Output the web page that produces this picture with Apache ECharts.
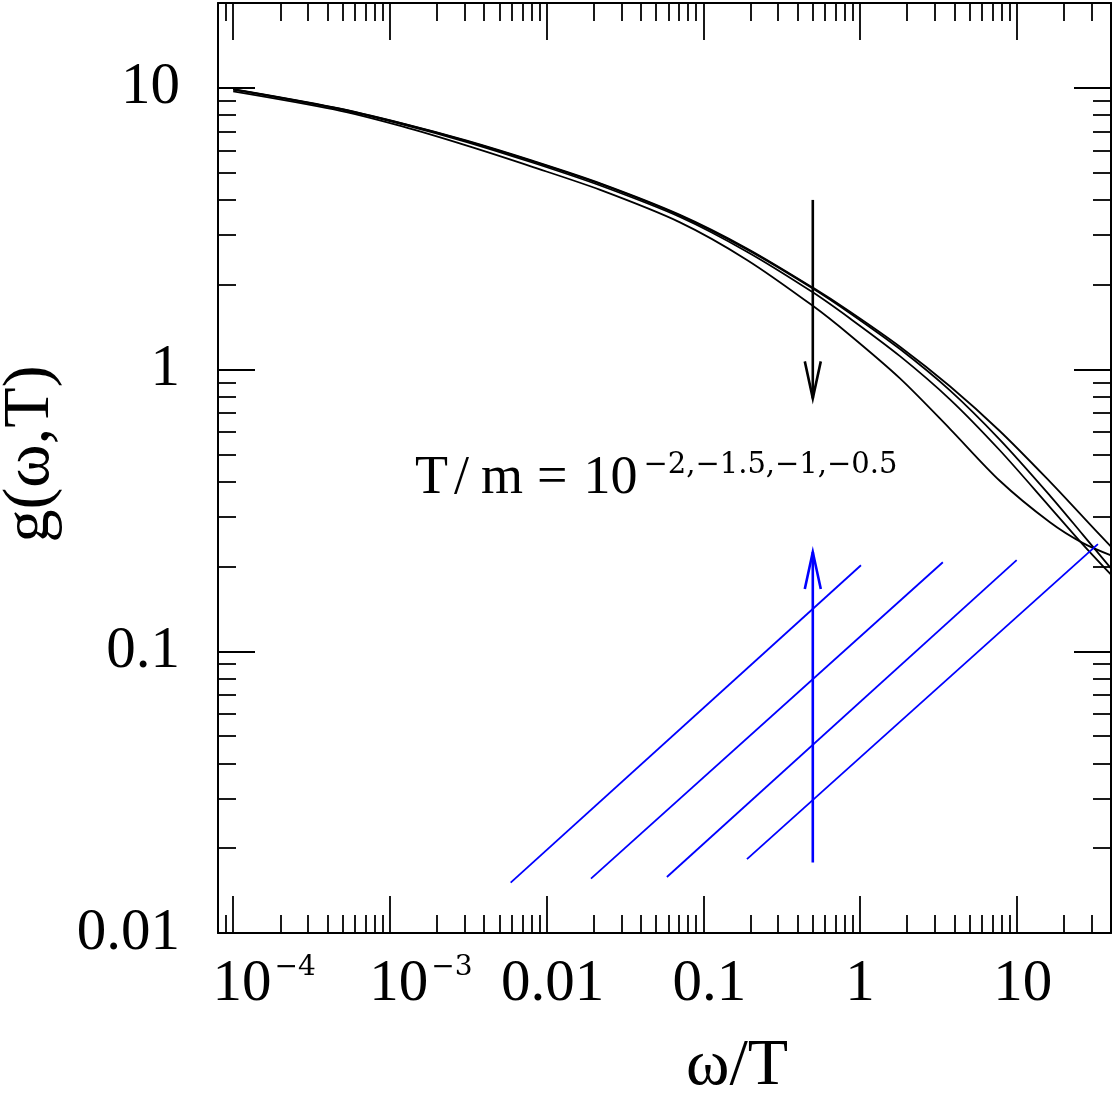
<!DOCTYPE html>
<html>
<head>
<meta charset="utf-8">
<title>g(ω,T)</title>
<script src="https://cdn.jsdelivr.net/npm/echarts@6/dist/echarts.min.js"></script>
<style>
  html, body { margin: 0; padding: 0; background: #fff; }
  #chart { width: 1118px; height: 1107px; }
</style>
</head>
<body>
<div id="chart"></div>
<script>
// omega/T sample points shared by the four black curves
const omegaOverT = [0.0001, 0.00044, 0.0012, 0.0031, 0.0082, 0.022, 0.071, 0.19, 0.5, 0.86, 1.8, 3.75, 7.8, 16.3, 26.5, 40];
const curveA = [9.89, 8.52, 7.48, 6.49, 5.50, 4.58, 3.54, 2.69, 1.953, 1.607, 1.205, 0.872, 0.605, 0.400, 0.300, 0.235];
const curveB = [9.87, 8.50, 7.46, 6.47, 5.48, 4.56, 3.52, 2.67, 1.94, 1.588, 1.182, 0.843, 0.564, 0.357, 0.259, 0.197];
const curveC = [9.85, 8.47, 7.42, 6.42, 5.42, 4.50, 3.48, 2.62, 1.88, 1.521, 1.116, 0.784, 0.517, 0.325, 0.239, 0.187];
const curveD = [9.72, 8.38, 7.29, 6.23, 5.23, 4.34, 3.33, 2.45, 1.683, 1.326, 0.930, 0.616, 0.403, 0.287, 0.242, 0.219];

// blue straight lines (start, end)
const blueLine1 = [[0.0059, 0.0151], [1.015, 0.202]];
const blueLine2 = [[0.0192, 0.0156], [3.38, 0.207]];
const blueLine3 = [[0.0586, 0.0158], [10.0, 0.2106]];
const blueLine4 = [[0.190, 0.0183], [33.0, 0.240]];

// arrows: [x, tail y, tip y]
const downArrow = [0.5, 4.0, 0.79];
const upArrow = [0.5, 0.0178, 0.225];

const xMajorTicks = [0.0001, 0.001, 0.01, 0.1, 1, 10];
const xTickLabels = [['10', '−4'], ['10', '−3'], ['0.01'], ['0.1'], ['1'], ['10']];
const yMajorTicks = [0.01, 0.1, 1, 10];
const yTickLabels = ['0.01', '0.1', '1', '10'];
const minorSteps = [2, 3, 4, 5, 6, 7, 8, 9];

const xRange = [0.00008, 40];
const yRange = [0.01, 20];

const serif = 'Liberation Serif';
const supSerif = 'DejaVu Serif';

function minorTicks(decades, lo, hi) {
  const out = [];
  decades.forEach((d) => {
    minorSteps.forEach((k) => {
      const v = Number((k * Math.pow(10, d)).toPrecision(3));
      if (v >= lo && v <= hi) out.push(v);
    });
  });
  return out;
}

const xMinorTicks = minorTicks([-5, -4, -3, -2, -1, 0, 1], xRange[0], 30);
const yMinorTicks = minorTicks([-2, -1, 0, 1], yRange[0], yRange[1]);

function sameTick(a, b) {
  return Math.abs(Math.log10(a) - Math.log10(b)) < 1e-6;
}

function tickAxis(position, range, ticks, length, withLine) {
  return {
    type: 'log',
    logBase: 10,
    position,
    min: range[0],
    max: range[1],
    axisLine: { show: withLine, onZero: false, lineStyle: { color: '#000', width: 2 } },
    axisTick: { show: true, inside: true, length, customValues: ticks, lineStyle: { color: '#000', width: 1.8 } },
    axisLabel: { show: false },
    splitLine: { show: false },
  };
}

const chart = echarts.init(document.getElementById('chart'));

const bottomAxis = tickAxis('bottom', xRange, xMajorTicks, 37, true);
bottomAxis.axisLabel = {
  show: true,
  margin: 21,
  customValues: xMajorTicks,
  formatter: (v) => {
    const i = xMajorTicks.findIndex((t) => sameTick(t, v));
    const lab = xTickLabels[i];
    if (!lab) return '';
    if (lab.length === 2) return `{p|}{b|${lab[0]}}{s|${lab[1]}}`;
    return lab[0] === '1' ? `{b|${lab[0]}}` : `{c|${lab[0]}}`;
  },
  rich: {
    b: { fontFamily: serif, fontSize: 59, lineHeight: 60, color: '#000' },
    c: { fontFamily: serif, fontSize: 59, lineHeight: 60, color: '#000', padding: [0, 0, 0, 12] },
    s: { fontFamily: supSerif, fontSize: 28, lineHeight: 30, verticalAlign: 'top', color: '#000', padding: [0, 0, 0, 3] },
    p: { width: 62 },
  },
};

const leftAxis = tickAxis('left', yRange, yMajorTicks, 37, true);
leftAxis.axisLabel = {
  show: true,
  margin: 38,
  customValues: yMajorTicks,
  fontFamily: serif,
  fontSize: 59,
  color: '#000',
  formatter: (v) => {
    const i = yMajorTicks.findIndex((t) => sameTick(t, v));
    return i < 0 ? '' : yTickLabels[i];
  },
};

function arrowSeries(point, color) {
  return {
    type: 'custom',
    coordinateSystem: 'cartesian2d',
    data: [point],
    encode: { x: 0, y: [1, 2] },
    silent: true,
    z: 5,
    renderItem: (params, api) => {
      const tail = api.coord([api.value(0), api.value(1)]);
      const tip = api.coord([api.value(0), api.value(2)]);
      const back = tip[1] > tail[1] ? -37 : 37;
      return {
        type: 'group',
        children: [
          { type: 'line', shape: { x1: tail[0], y1: tail[1], x2: tip[0], y2: tip[1] }, style: { stroke: color, lineWidth: 2.6 } },
          {
            type: 'polyline',
            shape: { points: [[tip[0] - 8, tip[1] + back], [tip[0], tip[1]], [tip[0] + 8, tip[1] + back]] },
            style: { stroke: color, lineWidth: 2.6, fill: null },
          },
        ],
      };
    },
  };
}

const blackCurve = (values) => ({
  type: 'line',
  data: omegaOverT.map((x, i) => [x, values[i]]),
  showSymbol: false,
  smooth: 0.3,
  silent: true,
  lineStyle: { color: '#000', width: 1.8 },
});

const blueLine = (pts) => ({
  type: 'line',
  data: pts,
  showSymbol: false,
  silent: true,
  lineStyle: { color: '#0000ff', width: 1.8 },
});

chart.setOption({
  animation: false,
  backgroundColor: '#fff',
  grid: { left: 218, right: 7, top: 3, bottom: 174, containLabel: false },
  xAxis: [
    bottomAxis,
    tickAxis('bottom', xRange, xMinorTicks, 18, false),
    tickAxis('top', xRange, xMajorTicks, 37, true),
    tickAxis('top', xRange, xMinorTicks, 18, false),
  ],
  yAxis: [
    leftAxis,
    tickAxis('left', yRange, yMinorTicks, 18, false),
    tickAxis('right', yRange, yMajorTicks, 37, true),
    tickAxis('right', yRange, yMinorTicks, 18, false),
  ],
  series: [
    blackCurve(curveA),
    blackCurve(curveB),
    blackCurve(curveC),
    blackCurve(curveD),
    blueLine(blueLine1),
    blueLine(blueLine2),
    blueLine(blueLine3),
    blueLine(blueLine4),
    arrowSeries(downArrow, '#000'),
    arrowSeries(upArrow, '#0000ff'),
  ],
  graphic: [
    {
      type: 'text',
      left: 415,
      top: 451,
      silent: true,
      style: {
        text: '{b|T}{g|/}{b|m}{e|=}{b|10}{s|−2,−1.5,−1,−0.5}',
        rich: {
          b: { fontFamily: serif, fontSize: 54, lineHeight: 56, fill: '#000', color: '#000' },
          g: { fontFamily: serif, fontSize: 54, lineHeight: 56, padding: [0, 12, 0, 6], fill: '#000', color: '#000' },
          e: { fontFamily: serif, fontSize: 54, lineHeight: 56, padding: [0, 16, 0, 14], fill: '#000', color: '#000' },
          s: { fontFamily: supSerif, fontSize: 29, lineHeight: 30, verticalAlign: 'top', padding: [0, 0, 0, 6], fill: '#000', color: '#000' },
        },
      },
    },
    {
      type: 'text',
      x: 737,
      y: 1067,
      silent: true,
      style: {
        text: 'ω/T',
        font: '66px "Liberation Serif"',
        fill: '#000',
        textAlign: 'center',
        textVerticalAlign: 'middle',
      },
    },
    {
      type: 'text',
      x: 31,
      y: 454,
      rotation: Math.PI / 2,
      silent: true,
      style: {
        text: 'g(ω,T)',
        font: '66px "Liberation Serif"',
        fill: '#000',
        textAlign: 'center',
        textVerticalAlign: 'middle',
      },
    },
  ],
});
</script>
</body>
</html>
